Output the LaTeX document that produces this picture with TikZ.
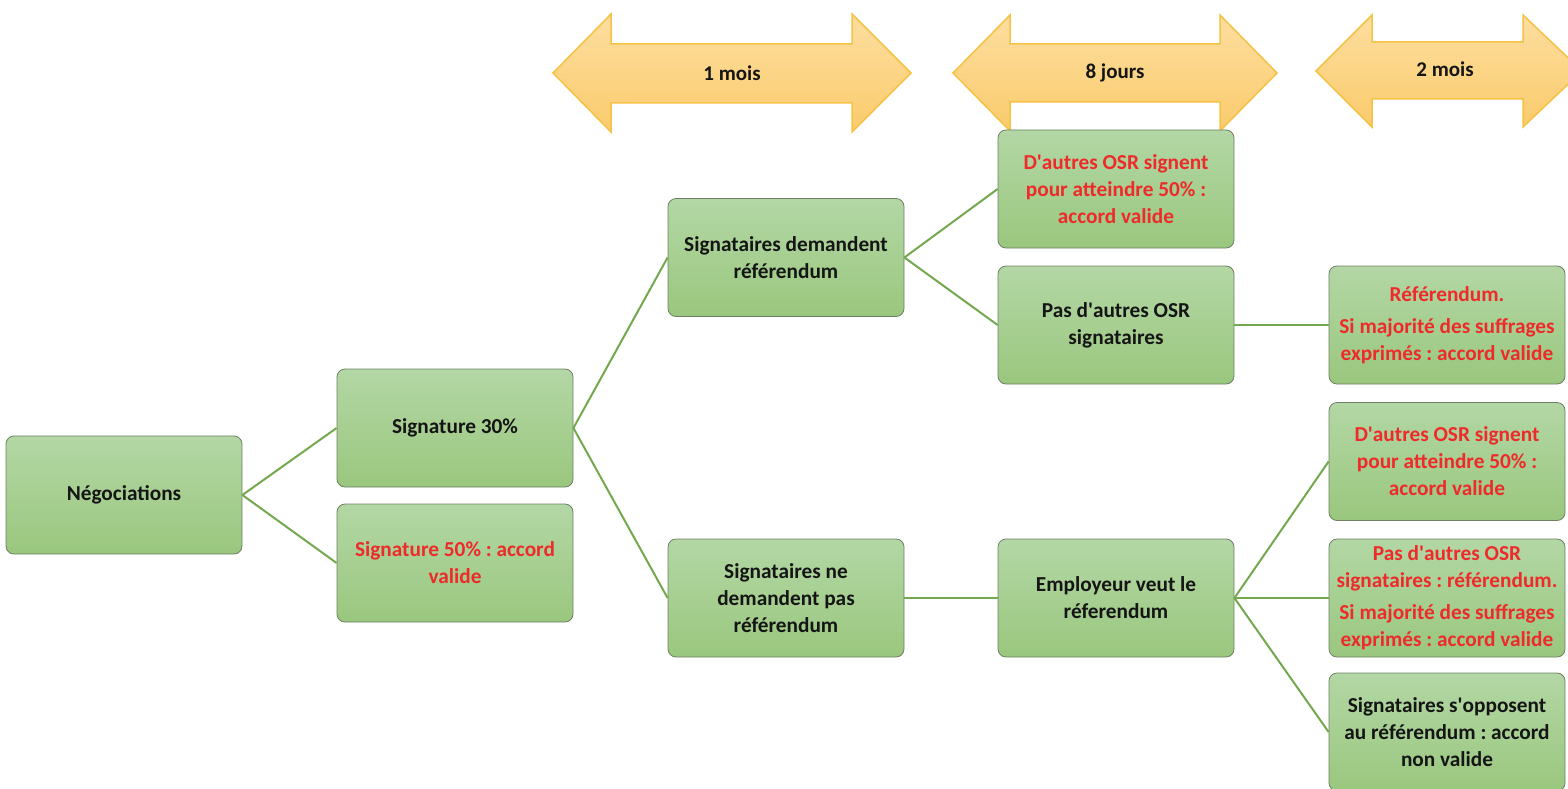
\documentclass[tikz,border=0pt]{standalone}
\usepackage{fontspec}
\setmainfont{Carlito}
\frenchspacing
\newcommand{\q}{\textquotesingle}
\definecolor{boxtop}{HTML}{B3D7A5}
\definecolor{boxbot}{HTML}{9AC77E}
\definecolor{boxline}{HTML}{6E7F64}
\definecolor{conncol}{HTML}{74A84E}
\definecolor{redtxt}{HTML}{EE2A2A}
\definecolor{txtblk}{HTML}{151515}
\definecolor{arrtop}{HTML}{FDDEA0}
\definecolor{arrbot}{HTML}{FACB6C}
\definecolor{arrline}{HTML}{F6C246}
\newcommand{\dblarr}[9]{%
  % #1 name, #2 left tip x, #3 left base x, #4 right base x, #5 right tip x, #6 head top y, #7 shaft top y, #8 shaft bottom y, #9 head bottom y
  \path[arrowshape] (#2,{(#6+#9)/2}) -- (#3,#6) -- (#3,#7) -- (#4,#7) -- (#4,#6) -- (#5,{(#6+#9)/2}) -- (#4,#9) -- (#4,#8) -- (#3,#8) -- (#3,#9) -- cycle;
  \coordinate (#1) at ({(#2+#5)/2},{(#6+#9)/2});
}
\begin{document}
\begin{tikzpicture}[x=1pt,y=-1pt,
  stepbox/.style={rectangle, rounded corners=8pt, draw=boxline, line width=0.8pt,
    top color=boxtop, bottom color=boxbot, minimum width=236pt, minimum height=118pt,
    align=center, inner sep=2pt, text=txtblk,
    font=\bfseries\fontsize{21.3}{27}\selectfont},
  redbox/.style={stepbox, text=redtxt},
  conn/.style={draw=conncol, line width=2pt},
  arrowshape/.style={draw=arrline, line width=1.5pt, top color=arrtop, bottom color=arrbot, line join=miter},
  arrlabel/.style={font=\bfseries\fontsize{21}{24}\selectfont, text=txtblk, inner sep=0pt}
]
\useasboundingbox (0,0) rectangle (1568,789);
\clip (0,0) rectangle (1568,789);

% time arrows
\dblarr{a1}{553}{611}{852}{911}{14}{44}{103}{132}
\dblarr{a2}{953}{1010}{1220}{1277}{15}{44}{102}{131}
\dblarr{a3}{1316}{1372}{1523}{1582}{15}{42}{99}{127}
\node[arrlabel] (l1) at (a1) {1 mois};
\node[arrlabel] (l2) at (a2) {8 jours};
\node[arrlabel] (l3) at (1445,69) {2 mois};

% boxes
\node[stepbox] (neg) at (124,495) {Négociations};
\node[stepbox] (s30) at (455,428) {Signature 30\%};
\node[redbox] (s50) at (455,563) {Signature 50\% : accord\\valide};
\node[stepbox] (dem) at (786,257.5) {Signataires demandent\\référendum};
\node[stepbox] (nodem) at (786,598) {Signataires ne\\demandent pas\\référendum};
\node[redbox] (osr1) at (1116,189) {D\q autres OSR signent\\pour atteindre 50\% :\\accord valide};
\node[stepbox] (pas1) at (1116,325) {Pas d\q autres OSR\\signataires};
\node[stepbox] (emp) at (1116,598) {Employeur veut le\\réferendum};
\node[redbox] (ref) at (1447,325) {Référendum.\\[5pt]Si majorité des suffrages\\exprimés : accord valide};
\node[redbox] (osr2) at (1447,461.5) {D\q autres OSR signent\\pour atteindre 50\% :\\accord valide};
\node[redbox] (pas2) at (1447,598) {Pas d\q autres OSR\\signataires : référendum.\\[5pt]Si majorité des suffrages\\exprimés : accord valide};
\node[stepbox] (opp) at (1447,732) {Signataires s\q opposent\\au référendum : accord\\non valide};

% connectors
\draw[conn] (neg.east) -- (s30.west);
\draw[conn] (neg.east) -- (s50.west);
\draw[conn] (s30.east) -- (dem.west);
\draw[conn] (s30.east) -- (nodem.west);
\draw[conn] (dem.east) -- (osr1.west);
\draw[conn] (dem.east) -- (pas1.west);
\draw[conn] (pas1.east) -- (ref.west);
\draw[conn] (nodem.east) -- (emp.west);
\draw[conn] (emp.east) -- (osr2.west);
\draw[conn] (emp.east) -- (pas2.west);
\draw[conn] (emp.east) -- (opp.west);
\end{tikzpicture}
\end{document}
